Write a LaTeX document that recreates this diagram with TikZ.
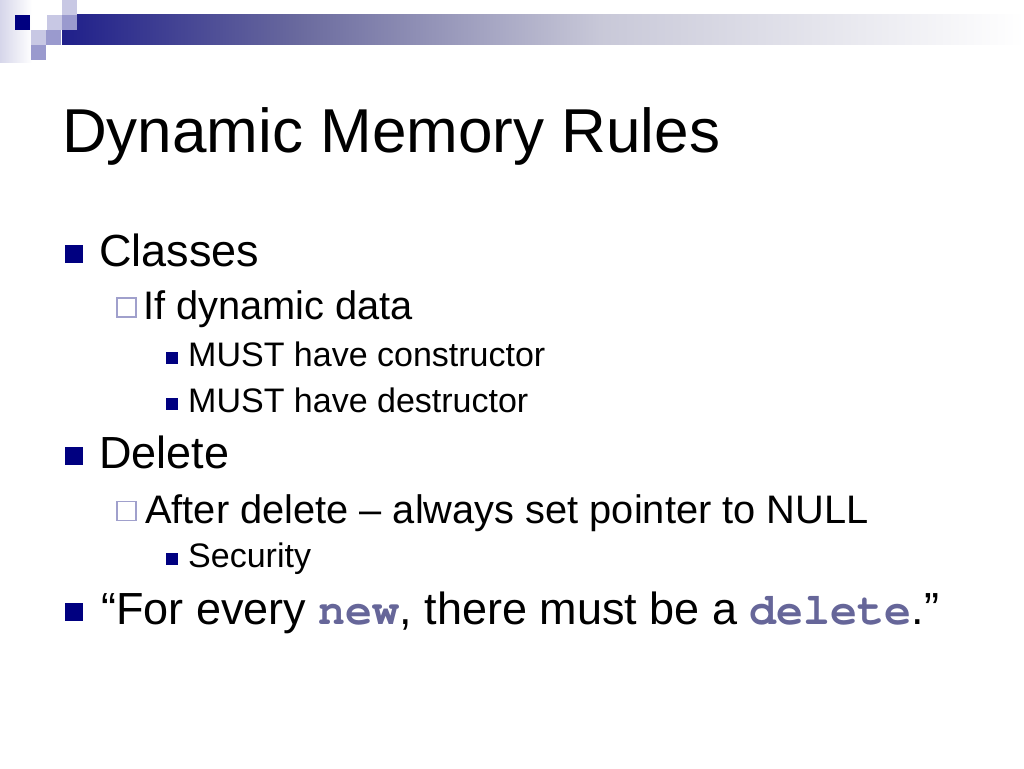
\documentclass[tikz,border=0pt]{standalone}
\usepackage[T1,TU]{fontenc}
\usepackage{fontspec}
\setmainfont{Liberation Sans}
\definecolor{navy}{RGB}{0,0,128}
\definecolor{tilelight}{RGB}{200,200,228}
\definecolor{tilemid}{RGB}{154,154,206}
\definecolor{tilefade}{RGB}{214,214,234}
\definecolor{hollowblue}{RGB}{160,160,204}
\definecolor{codeblue}{RGB}{102,102,153}
\definecolor{barstart}{RGB}{31,31,138}
\definecolor{barmid}{RGB}{106,106,158}
\definecolor{barlight}{RGB}{200,200,216}
\newcommand{\code}[1]{{\fontencoding{T1}\fontfamily{pcr}\bfseries\selectfont\color{codeblue}#1}}

\begin{document}
\begin{tikzpicture}[
	x=1pt, y=-1pt,
	title/.style={
		anchor=base west,
		inner sep=0pt,
		font=\fontsize{62}{70}\selectfont
	},
	levelone/.style={
		anchor=base west,
		inner sep=0pt,
		font=\fontsize{45}{52}\selectfont
	},
	leveltwo/.style={
		anchor=base west,
		inner sep=0pt,
		font=\fontsize{39.8}{46}\selectfont
	},
	levelthree/.style={
		anchor=base west,
		inner sep=0pt,
		font=\fontsize{34}{40}\selectfont
	},
	bulletone/.style={
		rectangle,
		fill=navy,
		inner sep=0pt,
		minimum size=18pt
	},
	bullettwo/.style={
		rectangle,
		draw=hollowblue,
		line width=1.5pt,
		inner sep=0pt,
		minimum size=19pt
	},
	bulletthree/.style={
		rectangle,
		fill=navy,
		inner sep=0pt,
		minimum size=12pt
	},
	tile/.style={
		draw=none
	},
]

\useasboundingbox (0,0) rectangle (1024,768);
\fill[white] (0,0) rectangle (1024,768);

% header bar and tiles
\shade[left color=tilefade, right color=white] (0,0) rectangle (32,62);
\shade[left color=barstart, right color=barmid] (62,15) rectangle (300,45);
\shade[left color=barmid, right color=barlight] (299,15) rectangle (600,45);
\shade[left color=barlight, right color=white] (599,15) rectangle (1024,45);
\fill[tile, navy] (15,15) rectangle (30,30);
\fill[tile, tilelight] (47,15) rectangle (62,30);
\fill[tile, tilemid] (62,15) rectangle (77,30);
\fill[tile, tilelight] (62,0) rectangle (77,15);
\fill[tile, tilelight] (31,30) rectangle (46,45);
\fill[tile, tilemid] (46,30) rectangle (61,45);
\fill[tile, tilemid] (31,45) rectangle (46,60);

\node[title] (title) at (62,152) {Dynamic Memory Rules};

\node[bulletone] (bclasses) at (74,254) {};
\node[levelone] (classes) at (99,266) {Classes};
\node[bullettwo] (bdyndata) at (126.5,307.5) {};
\node[leveltwo] (dyndata) at (143,319) {If dynamic data};
\node[bulletthree] (bctor) at (172,358) {};
\node[levelthree] (ctor) at (188,366) {MUST have constructor};
\node[bulletthree] (bdtor) at (172,404) {};
\node[levelthree] (dtor) at (188,412) {MUST have destructor};

\node[bulletone] (bdelete) at (74,456) {};
\node[levelone] (delete) at (99,468) {Delete};
\node[bullettwo] (bafterdel) at (126.5,511) {};
\node[leveltwo] (afterdel) at (145,523) {After delete – always set pointer to NULL};
\node[bulletthree] (bsecurity) at (172,559) {};
\node[levelthree] (security) at (188,567) {Security};

\node[bulletone] (beverynew) at (74,612) {};
\node[levelone] (everynew) at (101,624) {“For every \code{new}, there must be a \code{delete}.”};

\end{tikzpicture}
\end{document}
